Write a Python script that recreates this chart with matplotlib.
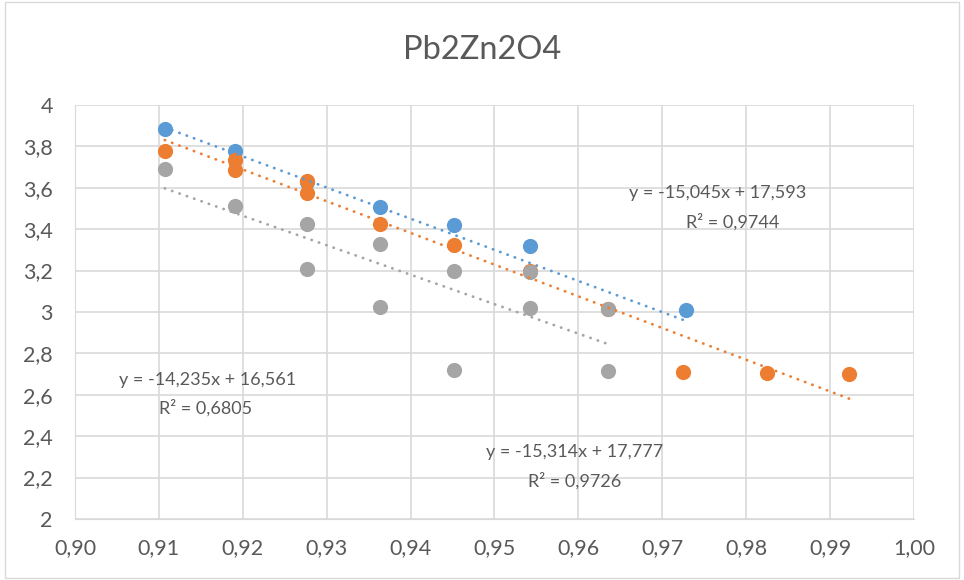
import numpy as np
import matplotlib.pyplot as plt

# series data (x, y)
blue_x = [0.9107, 0.9191, 0.9276, 0.9363, 0.9452, 0.9542, 0.9728]
blue_y = [3.882, 3.777, 3.630, 3.505, 3.419, 3.320, 3.010]

orange_x = [0.9107, 0.9191, 0.9191, 0.9276, 0.9276, 0.9363, 0.9452, 0.9542, 0.9635,
            0.9725, 0.9825, 0.9923]
orange_y = [3.777, 3.733, 3.688, 3.633, 3.575, 3.424, 3.323, 3.200, 3.013,
            2.710, 2.705, 2.700]

gray_x = [0.9107, 0.9191, 0.9276, 0.9276, 0.9363, 0.9363, 0.9452, 0.9452,
          0.9542, 0.9542, 0.9635, 0.9635]
gray_y = [3.689, 3.512, 3.427, 3.207, 3.326, 3.026, 3.199, 2.722,
          3.194, 3.021, 3.013, 2.716]

# trendline coefficients as shown on chart
blue_fit = (-15.045, 17.593)
orange_fit = (-15.314, 17.777)
gray_fit = (-14.235, 16.561)

c_blue = '#5B9BD5'
c_orange = '#ED7D31'
c_gray = '#A5A5A5'
txt = '#595959'

plt.rcParams['font.family'] = ['Lato', 'DejaVu Sans']

fig = plt.figure(figsize=(9.64, 5.8), dpi=100)
ax = fig.add_axes([0.0778, 0.1052, 0.8703, 0.7138])

for xs, ys, col in [(blue_x, blue_y, c_blue), (orange_x, orange_y, c_orange),
                    (gray_x, gray_y, c_gray)]:
    ax.scatter(xs, ys, s=120, color=col, zorder=3, linewidths=0)

for xs, fit, col in [(blue_x, blue_fit, c_blue), (orange_x, orange_fit, c_orange),
                     (gray_x, gray_fit, c_gray)]:
    xx = np.linspace(min(xs), max(xs), 50)
    ax.plot(xx, fit[0] * xx + fit[1], color=col, lw=2.0, ls=(0, (0.1, 2.7)),
            dash_capstyle='round', zorder=4)

xt = np.arange(0.90, 1.0001, 0.01)
yt = np.arange(2, 4.001, 0.2)
ax.set_xlim(0.90, 1.00)
ax.set_ylim(2, 4)
ax.set_xticks(xt)
ax.set_yticks(yt)
ax.set_xticklabels([f'{v:.2f}'.replace('.', ',') for v in xt])
ax.set_yticklabels([f'{v:.1f}'.replace('.', ',').replace(',0', '') for v in yt])
ax.grid(True, color='#D9D9D9', lw=1.2)
ax.set_axisbelow(True)
for s in ax.spines.values():
    s.set_visible(False)
ax.spines['bottom'].set_visible(True)
ax.spines['bottom'].set_color('#D9D9D9')
ax.spines['left'].set_visible(True)
ax.spines['left'].set_color('#D9D9D9')
ax.tick_params(length=0, labelsize=15.5, colors=txt)
ax.tick_params(axis='y', pad=16)
ax.tick_params(axis='x', pad=14)

fig.text(0.5, 0.9138, 'Pb2Zn2O4', ha='center', va='center', fontsize=23.5, color=txt)

fs = 13
ax.text(0.97664, 3.575, 'y = -15,045x + 17,593', ha='center', va='center', fontsize=fs, color=txt)
ax.text(0.97843, 3.435, 'R² = 0,9744', ha='center', va='center', fontsize=fs, color=txt)
ax.text(0.91579, 2.671, 'y = -14,235x + 16,561', ha='center', va='center', fontsize=fs, color=txt)
ax.text(0.91560, 2.536, 'R² = 0,6805', ha='center', va='center', fontsize=fs, color=txt)
ax.text(0.95959, 2.324, 'y = -15,314x + 17,777', ha='center', va='center', fontsize=fs, color=txt)
ax.text(0.95959, 2.184, 'R² = 0,9726', ha='center', va='center', fontsize=fs, color=txt)

fig.patches.append(plt.Rectangle((0.005, 0.004), 0.99, 0.992, transform=fig.transFigure,
                                 fill=False, edgecolor='#D9D9D9', lw=1))

fig.savefig('out.png', dpi=100)
